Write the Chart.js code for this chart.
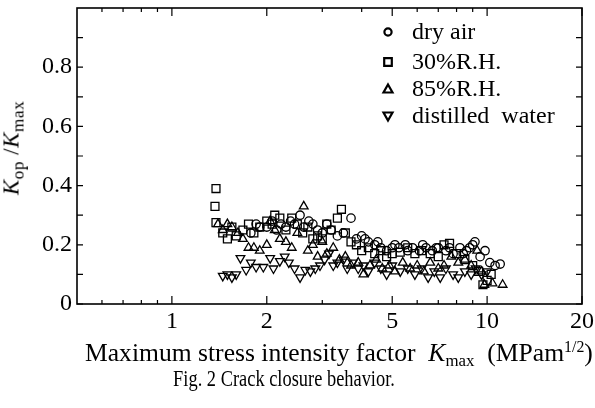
<!DOCTYPE html>
<html><head><meta charset="utf-8">
<script src="https://cdn.jsdelivr.net/npm/chart.js@4.4.0/dist/chart.umd.min.js"></script>
<style>
body{margin:0;background:#fff;}
#wrap{position:relative;width:595px;height:408px;font-family:'Liberation Serif','Times New Roman',serif;color:#000;overflow:hidden;}
canvas{position:absolute;left:0;top:0;}
.t{position:absolute;white-space:pre;line-height:1;}
.sb{font-size:0.66em;position:relative;top:0.3em;}
.sb2{font-size:0.75em;position:relative;top:0.3em;}
.sp{font-size:0.62em;position:relative;top:-0.55em;}
</style></head>
<body>
<div id="wrap">
<canvas id="c" width="595" height="408"></canvas>
<div class="t" id="yt" style="font-size:23px;letter-spacing:0.5px;left:11px;top:148px;transform:translate(-50%,-50%) rotate(-90deg);"><i>K</i><span class="sb2">op</span> /<i>K</i><span class="sb2">max</span></div>
<div class="t" id="xt" style="font-size:25.6px;left:85px;top:340px;">Maximum stress intensity factor  <i>K</i><span class="sb">max</span>  (MPam<span class="sp">1/2</span>)</div>
<div class="t" id="cap" style="font-size:23px;left:84px;width:400px;text-align:center;top:367px;transform:scaleX(0.8);">Fig. 2 Crack closure behavior.</div>
</div>
<script>
// ---- data ----
const seriesNames = ['dry air', '30%R.H.', '85%R.H.', 'distilled  water'];
const xMajorTicks = [1, 2, 5, 10, 20];
const xMinorTicks = [0.6, 0.7, 0.8, 0.9, 3, 4, 6, 7, 8, 9];
const yMajorTicks = [0, 0.2, 0.4, 0.6, 0.8];
const yMinorTicks = [0.1, 0.3, 0.5, 0.7, 0.9];

const dryAirX = [1.78,1.85,1.9,2.0,2.08,2.15,2.22,2.3,2.38,2.45,2.55,2.62,2.72,2.8,2.9,3.0,3.1,3.2,3.35,3.5,3.7,3.85,4.0,4.1,4.2,4.4,4.5,4.6,4.8,5.0,5.1,5.25,5.5,5.6,5.8,6.1,6.25,6.4,6.7,6.9,7.0,7.4,7.6,7.8,8.2,8.4,8.6,8.8,9.0,9.15,9.5,9.85,10.2,10.6,11.0];
const dryAirY = [0.24,0.27,0.26,0.26,0.28,0.25,0.27,0.26,0.28,0.27,0.30,0.26,0.28,0.27,0.25,0.24,0.27,0.25,0.23,0.24,0.29,0.22,0.23,0.22,0.21,0.20,0.21,0.19,0.18,0.19,0.20,0.19,0.20,0.18,0.19,0.18,0.20,0.19,0.18,0.19,0.19,0.18,0.19,0.17,0.19,0.17,0.18,0.19,0.20,0.21,0.16,0.18,0.14,0.13,0.135];

const rh30X = [1.38,1.37,1.38,1.45,1.5,1.55,1.6,1.68,1.75,1.82,1.9,2.0,2.08,2.12,2.2,2.3,2.4,2.5,2.6,2.7,2.8,2.9,3.0,3.1,3.2,3.35,3.45,3.55,3.7,3.85,4.0,4.2,4.4,4.6,4.8,5.0,5.3,5.6,5.9,6.2,6.6,7.0,7.3,7.6,8.0,8.5,9.0,9.4,9.7,10.0,10.3];
const rh30Y = [0.39,0.33,0.275,0.24,0.22,0.26,0.23,0.25,0.27,0.24,0.26,0.28,0.27,0.30,0.29,0.25,0.29,0.27,0.24,0.26,0.22,0.23,0.22,0.27,0.25,0.29,0.32,0.24,0.21,0.20,0.18,0.19,0.17,0.18,0.16,0.17,0.175,0.19,0.17,0.18,0.17,0.16,0.20,0.205,0.17,0.15,0.13,0.11,0.065,0.08,0.10];

const rh85X = [1.4,1.45,1.5,1.55,1.62,1.68,1.75,1.82,1.9,2.0,2.05,2.12,2.2,2.3,2.4,2.5,2.62,2.7,2.8,2.9,3.0,3.1,3.25,3.4,3.55,3.7,3.9,4.05,4.25,4.45,4.65,4.9,5.1,5.4,5.7,6.0,6.3,6.6,7.0,7.3,7.7,8.1,8.5,8.9,9.3,9.6,9.8,10.4,11.2];
const rh85Y = [0.27,0.25,0.27,0.26,0.24,0.22,0.19,0.19,0.18,0.20,0.28,0.25,0.22,0.21,0.19,0.24,0.33,0.18,0.20,0.16,0.21,0.17,0.19,0.15,0.16,0.13,0.14,0.10,0.13,0.15,0.12,0.13,0.11,0.14,0.12,0.13,0.11,0.14,0.12,0.13,0.16,0.14,0.15,0.13,0.18,0.11,0.065,0.07,0.065];

const waterX = [1.45,1.5,1.55,1.6,1.65,1.72,1.78,1.85,1.95,2.05,2.1,2.2,2.28,2.35,2.45,2.55,2.65,2.75,2.85,2.95,3.05,3.15,3.25,3.35,3.5,3.6,3.75,3.9,4.05,4.2,4.4,4.6,4.8,5.0,5.3,5.6,5.9,6.2,6.5,6.8,7.1,7.4,7.8,8.1,8.5,8.9,9.2,9.6,10.0];
const waterY = [0.095,0.10,0.09,0.10,0.155,0.115,0.14,0.125,0.125,0.155,0.12,0.145,0.16,0.14,0.12,0.09,0.115,0.11,0.12,0.13,0.15,0.17,0.13,0.14,0.15,0.12,0.14,0.12,0.13,0.11,0.14,0.12,0.10,0.13,0.11,0.12,0.10,0.12,0.09,0.11,0.09,0.12,0.10,0.09,0.11,0.10,0.12,0.10,0.11];

// ---- chart ----
const pts = (xs, ys) => xs.map((x, i) => ({x: x, y: ys[i]}));
const styles = [
  {pointStyle: 'circle', pointRadius: 4.2, rotation: 0},
  {pointStyle: 'rect', pointRadius: 5.6, rotation: 0},
  {pointStyle: 'triangle', pointRadius: 5, rotation: 0},
  {pointStyle: 'triangle', pointRadius: 5, rotation: 180}
];
const allData = [pts(dryAirX, dryAirY), pts(rh30X, rh30Y), pts(rh85X, rh85Y), pts(waterX, waterY)];
const datasets = allData.map((d, i) => ({
  label: seriesNames[i],
  data: d,
  pointStyle: styles[i].pointStyle,
  pointRadius: styles[i].pointRadius,
  rotation: styles[i].rotation,
  borderColor: '#000',
  backgroundColor: 'rgba(0,0,0,0)',
  borderWidth: 1.3,
  showLine: false
}));

const frame = {
  id: 'frame',
  afterDatasetsDraw(chart) {
    const {ctx, chartArea: a, scales: {x, y}} = chart;
    ctx.save();
    ctx.strokeStyle = '#000';
    ctx.lineWidth = 1.2;
    ctx.beginPath();
    const xt = (v, len) => { const p = x.getPixelForValue(v); ctx.moveTo(p, a.bottom); ctx.lineTo(p, a.bottom - len); ctx.moveTo(p, a.top); ctx.lineTo(p, a.top + len); };
    const yt = (v, len) => { const p = y.getPixelForValue(v); ctx.moveTo(a.left, p); ctx.lineTo(a.left + len, p); ctx.moveTo(a.right, p); ctx.lineTo(a.right - len, p); };
    xMajorTicks.forEach(v => xt(v, 8));
    xMinorTicks.forEach(v => xt(v, 4));
    yMajorTicks.forEach(v => yt(v, 6));
    yMinorTicks.forEach(v => yt(v, 6));
    ctx.stroke();
    ctx.lineWidth = 1.6;
    ctx.strokeRect(a.left, a.top, a.right - a.left, a.bottom - a.top);
    ctx.restore();
  }
};

const legendRowsY = [32, 62, 89, 116];
const legendPlug = {
  id: 'legendPlug',
  afterDraw(chart) {
    const ctx = chart.ctx;
    ctx.save();
    ctx.strokeStyle = '#000';
    ctx.fillStyle = '#000';
    ctx.lineWidth = 2.2;
    const mx = 388, tx = 412;
    legendRowsY.forEach((cy, i) => {
      ctx.beginPath();
      if (i === 0) { ctx.arc(mx, cy, 3.6, 0, Math.PI * 2); }
      else if (i === 1) { ctx.rect(mx - 3.8, cy - 3.8, 7.6, 7.6); }
      else if (i === 2) { ctx.moveTo(mx, cy - 4.5); ctx.lineTo(mx + 4.5, cy + 3.5); ctx.lineTo(mx - 4.5, cy + 3.5); ctx.closePath(); }
      else { ctx.moveTo(mx, cy + 4.5); ctx.lineTo(mx + 4.5, cy - 3.5); ctx.lineTo(mx - 4.5, cy - 3.5); ctx.closePath(); }
      ctx.stroke();
      ctx.font = "24px 'Liberation Serif'";
      ctx.textBaseline = 'alphabetic';
      ctx.fillText(seriesNames[i], tx, cy + 7);
    });
    ctx.restore();
  }
};

new Chart(document.getElementById('c'), {
  type: 'scatter',
  data: {datasets: datasets},
  options: {
    responsive: false,
    animation: false,
    devicePixelRatio: 1,
    layout: {padding: {left: 0, right: 13, top: 8, bottom: 0}},
    plugins: {legend: {display: false}, tooltip: {enabled: false}},
    scales: {
      x: {
        type: 'logarithmic', min: 0.5, max: 20,
        grid: {display: false, drawTicks: false}, border: {display: false},
        afterBuildTicks: (s) => { s.ticks = xMajorTicks.map(v => ({value: v})); },
        afterFit: (s) => { s.height = 104; s.paddingRight = 0; s.paddingLeft = 0; },
        ticks: {color: '#000', padding: 3, maxRotation: 0, autoSkip: false,
          font: {family: "'Liberation Serif'", size: 24},
          callback: (v) => String(v)}
      },
      y: {
        min: 0, max: 1,
        grid: {display: false, drawTicks: false}, border: {display: false},
        afterBuildTicks: (s) => { s.ticks = yMajorTicks.map(v => ({value: v})); },
        afterFit: (s) => { s.width = 77; s.paddingTop = 0; s.paddingBottom = 0; },
        ticks: {color: '#000', padding: 5, autoSkip: false,
          font: {family: "'Liberation Serif'", size: 24},
          callback: (v) => v === 0 ? '0' : v.toFixed(1)}
      }
    }
  },
  plugins: [frame, legendPlug]
});
</script>
</body></html>
